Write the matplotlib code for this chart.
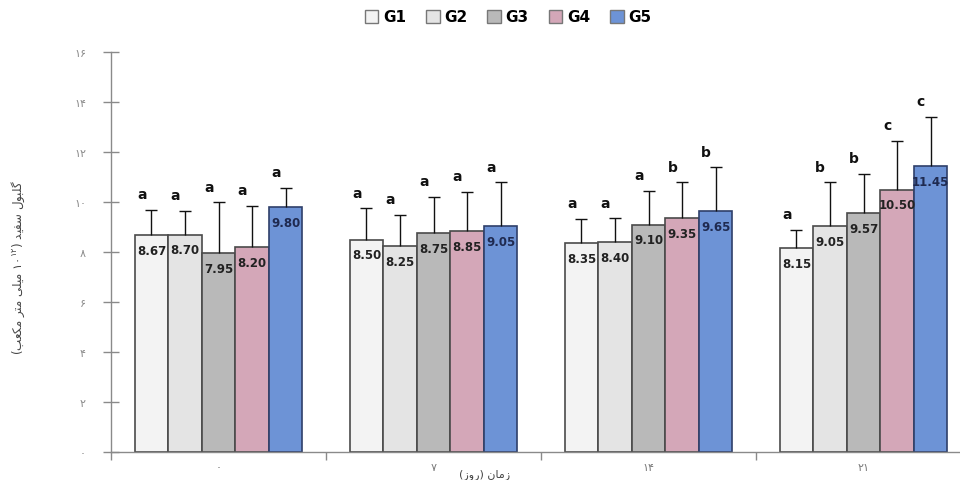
import matplotlib
matplotlib.use("Agg")
import matplotlib.pyplot as plt
from matplotlib.patches import Patch
import numpy as np

# ---------------- data ----------------
days = ['۰', '۷', '۱۴', '۲۱']
groups = ['G1', 'G2', 'G3', 'G4', 'G5']
g1 = [8.67, 8.50, 8.35, 8.15]
g2 = [8.70, 8.25, 8.40, 9.05]
g3 = [7.95, 8.75, 9.10, 9.57]
g4 = [8.20, 8.85, 9.35, 10.50]
g5 = [9.80, 9.05, 9.65, 11.45]
err1 = [1.02, 1.25, 0.97, 0.74]
err2 = [0.95, 1.25, 0.95, 1.74]
err3 = [2.04, 1.46, 1.35, 1.55]
err4 = [1.65, 1.56, 1.44, 1.95]
err5 = [0.76, 1.74, 1.74, 1.96]
let1 = ['a', 'a', 'a', 'a']
let2 = ['a', 'a', 'a', 'b']
let3 = ['a', 'a', 'a', 'b']
let4 = ['a', 'a', 'b', 'c']
let5 = ['a', 'a', 'b', 'c']
yticks = [0, 2, 4, 6, 8, 10, 12, 14, 16]
ytick_labels = ['۰', '۲', '۴', '۶', '۸', '۱۰', '۱۲', '۱۴', '۱۶']

values = [g1, g2, g3, g4, g5]
errors = [err1, err2, err3, err4, err5]
letters = [let1, let2, let3, let4, let5]

# ---------------- simple Persian shaping (matplotlib has no bidi/shaping) ----------------
FORMS = {
    'ا': ('\uFE8D', '\uFE8E', None, None),
    'ب': ('\uFE8F', '\uFE90', '\uFE91', '\uFE92'),
    'ت': ('\uFE95', '\uFE96', '\uFE97', '\uFE98'),
    'د': ('\uFEA9', '\uFEAA', None, None),
    'ر': ('\uFEAD', '\uFEAE', None, None),
    'ز': ('\uFEAF', '\uFEB0', None, None),
    'س': ('\uFEB1', '\uFEB2', '\uFEB3', '\uFEB4'),
    'ع': ('\uFEC9', '\uFECA', '\uFECB', '\uFECC'),
    'ف': ('\uFED1', '\uFED2', '\uFED3', '\uFED4'),
    'ل': ('\uFEDD', '\uFEDE', '\uFEDF', '\uFEE0'),
    'م': ('\uFEE1', '\uFEE2', '\uFEE3', '\uFEE4'),
    'ن': ('\uFEE5', '\uFEE6', '\uFEE7', '\uFEE8'),
    'و': ('\uFEED', '\uFEEE', None, None),
    'ی': ('\uFBFC', '\uFBFD', '\uFBFE', '\uFBFF'),
    'ک': ('\uFB8E', '\uFB8F', '\uFB90', '\uFB91'),
    'گ': ('\uFB92', '\uFB93', '\uFB94', '\uFB95'),
}


def shape(word):
    out = []
    n = len(word)
    for i, ch in enumerate(word):
        f = FORMS[ch]
        prev = word[i - 1] if i > 0 else None
        nxt = word[i + 1] if i < n - 1 else None
        jp = prev is not None and FORMS[prev][2] is not None
        jn = nxt is not None and f[2] is not None
        if jp and jn:
            g = f[3]
        elif jp:
            g = f[1]
        elif jn:
            g = f[2]
        else:
            g = f[0]
        out.append(g)
    return ''.join(reversed(out))


ylabel_text = ('(' + shape('مکعب') + ' ' + shape('متر') + ' ' + shape('میلی') +
               ' $۱۰^{۱۲}$) ' + shape('سفید') + ' ' + shape('گلبول'))
xlabel_text = '(' + shape('روز') + ') ' + shape('زمان')

plt.rcParams['font.family'] = ['DejaVu Sans', 'Noto Sans']
plt.rcParams['mathtext.fontset'] = 'dejavusans'

colors = ['#f3f3f3', '#e4e4e4', '#b9b9b9', '#d4a7b8', '#6d93d6']
edges = ['#4a4a4a', '#4a4a4a', '#4a4a4a', '#4a4a4a', '#2f3f6a']
valcolors = ['#222222', '#222222', '#222222', '#222222', '#1f2a50']

fig = plt.figure(figsize=(9.6, 4.81), dpi=100)
ax = fig.add_axes([111 / 960, 1 - 453 / 481, 860 / 960, 400 / 481])

x = np.arange(len(days))
w = 0.156
for i in range(5):
    xs = x + (i - 2) * w
    vals = np.array(values[i])
    errs = np.array(errors[i])
    ax.bar(xs, vals, width=w, color=colors[i], edgecolor=edges[i], linewidth=1.2, zorder=2)
    ax.vlines(xs, vals, vals + errs, colors='#111111', linewidth=1.0, zorder=3)
    ax.plot(xs, vals + errs, linestyle='none', marker='_', markersize=9,
            markeredgewidth=1.0, color='#111111', zorder=3)
    for j in range(len(days)):
        ax.text(xs[j], vals[j] - 0.62, f'{vals[j]:.2f}', ha='center', va='center',
                fontsize=8.5, fontweight='bold', color=valcolors[i], zorder=4)
        ax.text(xs[j] - 0.045, vals[j] + errs[j] + 0.62, letters[i][j], ha='center',
                va='center', fontsize=10, fontweight='bold', color='#111111', zorder=4)

ax.set_xlim(-0.5, 3.5)
ax.set_ylim(0, 16)
ax.set_yticks(yticks)
ax.set_yticklabels(ytick_labels)
ax.set_xticks(np.arange(-0.5, 4.0, 1.0))
ax.set_xticklabels([])
ax.set_xticks(x, minor=True)
ax.set_xticklabels(days, minor=True)

for s in ['top', 'right']:
    ax.spines[s].set_visible(False)
for s in ['left', 'bottom']:
    ax.spines[s].set_color('#8a8a8a')
    ax.spines[s].set_linewidth(1.0)

ax.tick_params(axis='y', direction='inout', length=12, width=1, color='#8a8a8a',
               labelsize=8, labelcolor='#8c8c8c', pad=12)
ax.tick_params(axis='x', which='major', direction='out', length=6, width=1, color='#8a8a8a')
ax.tick_params(axis='x', which='minor', length=0, labelsize=8, labelcolor='#7a7a7a', pad=7)

fig.text(18 / 960, 1 - 268 / 481, ylabel_text, rotation=90, ha='center', va='center',
         fontsize=8.5, color='#444444')
fig.text(485 / 960, 1 - 475 / 481, xlabel_text, ha='center', va='center',
         fontsize=8, color='#444444')

handles = [Patch(facecolor=colors[i], edgecolor='#777777', linewidth=1.0) for i in range(5)]
fig.legend(handles, groups, loc='center', bbox_to_anchor=(508 / 960, 1 - 18 / 481), ncol=5,
           frameon=False, handlelength=0.9, handleheight=0.9, handletextpad=0.3,
           columnspacing=1.3, prop={'weight': 'bold', 'size': 11})

fig.savefig('out.png', dpi=100)
